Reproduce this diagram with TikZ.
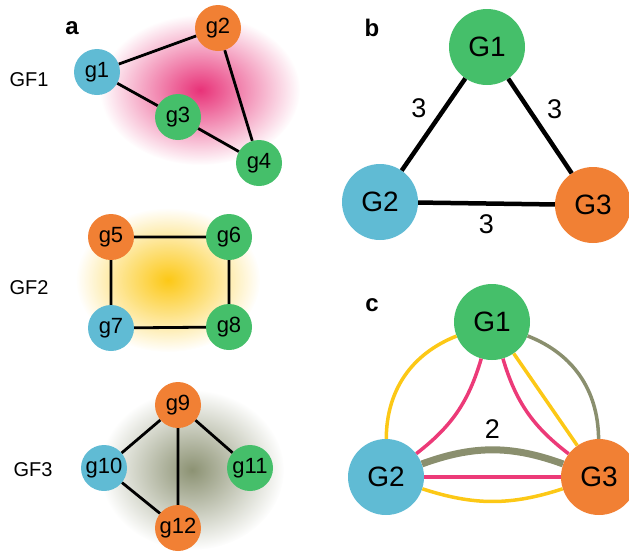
\documentclass[tikz,border=0pt]{standalone}
\usepackage{fontspec}
\setmainfont{Liberation Sans}
\usetikzlibrary{positioning,fadings}

\definecolor{ggreen}{RGB}{69,191,106}
\definecolor{gblue}{RGB}{96,187,212}
\definecolor{gorange}{RGB}{241,128,52}
\definecolor{gpink}{RGB}{236,58,120}
\definecolor{gyellow}{RGB}{252,200,22}
\definecolor{golive}{RGB}{138,143,110}
\definecolor{glowpink}{RGB}{232,50,120}
\definecolor{glowolive}{RGB}{120,127,90}

\tikzfading[name=glow, inner color=transparent!0, outer color=transparent!100]

\begin{document}
\begin{tikzpicture}[x=1pt,y=1pt]
        \tikzstyle{gene}=[circle, minimum size=46pt, inner sep=0pt, font=\fontsize{22}{22}\selectfont]
        \tikzstyle{group}=[circle, minimum size=76pt, inner sep=0pt, font=\fontsize{28}{28}\selectfont]
        \tikzstyle{panel}=[font=\fontsize{24}{24}\selectfont\bfseries]
        \tikzstyle{fam}=[font=\fontsize{20}{20}\selectfont]
        \tikzstyle{weight}=[font=\fontsize{27}{27}\selectfont]
        \tikzstyle{link}=[line width=2.8pt]
        \tikzstyle{mlink}=[line width=3.5pt]

        \useasboundingbox (0,0) rectangle (629,-552);

        % soft clouds behind the gene families
        \fill[glowpink, path fading=glow] (200,-90) ellipse (100 and 75);
        \fill[gyellow, path fading=glow] (168,-280) ellipse (92 and 72);
        \fill[glowolive!85, path fading=glow] (192,-470) ellipse (92 and 80);

        % a
        \node (la) [panel] at (72,-28) {a};
        \node (f1) [fam] at (29,-80) {GF1};
        \node (f2) [fam] at (29,-288) {GF2};
        \node (f3) [fam] at (33,-470) {GF3};

        \node (g1)  [gene, fill=gblue]   at (97,-72)   {g1};
        \node (g2)  [gene, fill=gorange] at (218,-28)  {g2};
        \node (g3)  [gene, fill=ggreen]  at (178,-117) {g3};
        \node (g4)  [gene, fill=ggreen]  at (259,-163) {g4};
        \node (g5)  [gene, fill=gorange] at (111,-237) {g5};
        \node (g6)  [gene, fill=ggreen]  at (229,-237) {g6};
        \node (g7)  [gene, fill=gblue]   at (111,-328) {g7};
        \node (g8)  [gene, fill=ggreen]  at (229,-327) {g8};
        \node (g9)  [gene, fill=gorange] at (178,-405) {g9};
        \node (g10) [gene, fill=gblue]   at (104,-468) {g10};
        \node (g11) [gene, fill=ggreen]  at (250,-468) {g11};
        \node (g12) [gene, fill=gorange] at (178,-528) {g12};

        \draw[link] (g1) -- (g2) -- (g4) -- (g3) -- (g1);
        \draw[link] (g5) -- (g6) -- (g8) -- (g7) -- (g5);
        \draw[link] (g9) -- (g10) -- (g12) -- (g9) -- (g11);

        % b
        \node (lb) [panel] at (372,-28) {b};
        \node (G1b) [group, fill=ggreen]  at (487,-47)  {G1};
        \node (G2b) [group, fill=gblue]   at (380,-202) {G2};
        \node (G3b) [group, fill=gorange] at (593,-205) {G3};

        \draw[line width=4.5pt] (G1b) -- node[weight, above left=2pt] {3} (G2b);
        \draw[line width=4.5pt] (G1b) -- node[weight, above right=2pt] {3} (G3b);
        \draw[line width=4.5pt] (G2b) -- node[weight, below=6pt] {3} (G3b);

        % c
        \node (lc) [panel] at (372,-305) {c};
        \node (G1c) [group, fill=ggreen]  at (492,-322) {G1};
        \node (G2c) [group, fill=gblue]   at (386,-477) {G2};
        \node (G3c) [group, fill=gorange] at (599,-477) {G3};

        \draw[mlink, gyellow] (G1c) to[bend right=34] (G2c);
        \draw[mlink, gpink]   (G1c) to[bend left=18] (G2c);
        \draw[mlink, gpink]   (G1c) to[bend right=18] (G3c);
        \draw[mlink, gyellow] (G1c) -- (G3c);
        \draw[mlink, golive]  (G1c) to[bend left=34] (G3c);
        \draw[line width=7pt, golive] (G2c) to[bend left=20] node[weight, above=4pt, text=black] {2} (G3c);
        \draw[mlink, gpink]   (G2c) -- (G3c);
        \draw[mlink, gyellow] (G2c) to[bend right=18] (G3c);

\end{tikzpicture}
\end{document}
